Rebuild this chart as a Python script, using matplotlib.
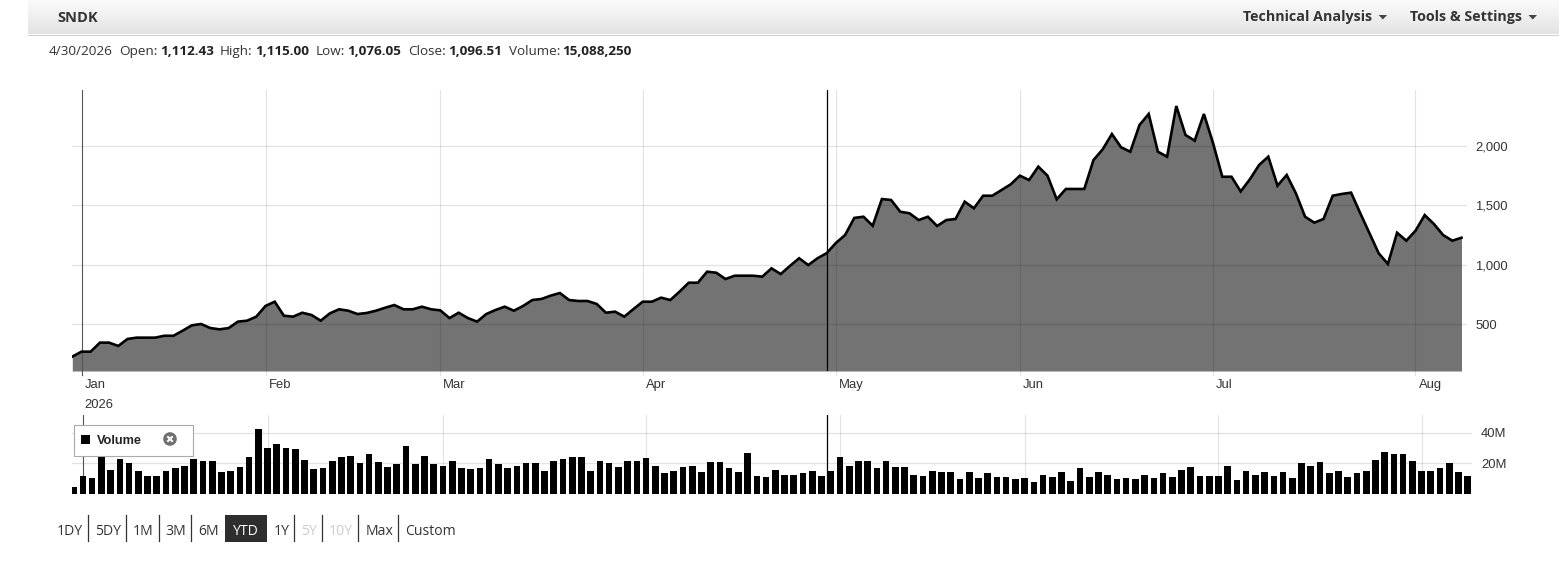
import matplotlib
matplotlib.use("Agg")
import matplotlib.pyplot as plt
import matplotlib.transforms as mtransforms
from matplotlib.patches import Rectangle, Circle, Polygon
from matplotlib.colors import LinearSegmentedColormap
import numpy as np
import pandas as pd

# ------------------------------------------------------------------ data
ticker = "SNDK"
market_holidays = ["2026-01-01", "2026-01-19", "2026-02-16", "2026-04-03",
                   "2026-05-25", "2026-06-19", "2026-07-03"]
dates = pd.bdate_range("2025-12-31", "2026-08-10", freq="C", holidays=market_holidays)

close = [225, 267, 267, 343, 343, 315, 374, 385, 385, 385,
         401, 401, 444, 489, 500, 466, 455, 466, 520, 528,
         562, 652, 688, 570, 562, 595, 576, 528, 590, 624,
         612, 584, 593, 612, 637, 660, 624, 624, 646, 624,
         615, 550, 595, 550, 520, 584, 618, 646, 612, 652,
         702, 711, 739, 761, 702, 694, 694, 669, 595, 604,
         562, 626, 688, 688, 722, 702, 772, 848, 848, 941,
         932, 879, 907, 907, 907, 899, 969, 921, 989, 1054,
         997, 1054, 1097, 1183, 1250, 1394, 1404, 1328, 1553, 1545,
         1446, 1433, 1376, 1404, 1326, 1376, 1385, 1531, 1475, 1581,
         1581, 1629, 1677, 1750, 1713, 1826, 1750, 1551, 1638, 1638,
         1638, 1882, 1972, 2101, 1989, 1952, 2177, 2270, 1952, 1910,
         2337, 2093, 2045, 2270, 2023, 1741, 1741, 1617, 1720, 1840,
         1910, 1666, 1756, 1601, 1404, 1354, 1385, 1581, 1596, 1607,
         1433, 1264, 1096, 1006, 1269, 1202, 1286, 1418, 1343, 1250,
         1202, 1227]

volume_m = [4.4, 11.8, 10.2, 26.0, 15.7, 22.7, 20.0, 15.0, 11.8, 11.8,
            15.0, 16.8, 18.3, 22.7, 21.6, 21.6, 14.4, 15.0, 17.4, 24.0,
            42.3, 29.9, 32.5, 29.9, 29.2, 22.2, 16.1, 16.8, 21.6, 24.0,
            24.8, 20.0, 25.9, 20.7, 17.4, 19.4, 31.6, 19.4, 24.8, 19.4,
            18.3, 21.6, 16.8, 16.1, 16.8, 22.7, 19.4, 16.8, 18.3, 20.0,
            20.0, 15.0, 21.6, 22.7, 24.0, 24.0, 15.0, 21.6, 20.0, 17.4,
            21.6, 21.6, 23.3, 18.3, 13.5, 15.0, 17.4, 18.3, 14.2, 20.7,
            20.7, 16.8, 14.2, 26.6, 11.8, 10.9, 15.7, 12.4, 12.4, 13.5,
            15.0, 11.8, 15.1, 24.0, 18.3, 21.6, 21.6, 16.8, 21.6, 17.4,
            17.4, 12.4, 11.8, 15.0, 14.2, 14.2, 9.6, 14.2, 10.2, 13.5,
            10.9, 10.9, 9.6, 10.2, 7.6, 12.4, 10.9, 14.2, 8.5, 16.8,
            10.9, 14.2, 12.4, 9.6, 10.2, 9.6, 12.4, 10.2, 13.5, 10.9,
            15.7, 17.4, 11.8, 11.8, 11.8, 18.3, 9.2, 15.0, 12.4, 14.2,
            11.8, 14.2, 10.2, 20.0, 18.3, 20.7, 13.5, 15.0, 10.9, 13.5,
            15.0, 22.2, 27.2, 25.9, 25.9, 21.6, 15.0, 15.0, 16.8, 20.0,
            14.2, 11.8]

price_ticks = [500, 1000, 1500, 2000]
price_tick_labels = ["500", "1,000", "1,500", "2,000"]
volume_ticks_m = [20, 40]
volume_tick_labels = ["20M", "40M"]

selected_day = "2026-04-30"
info_date = "4/30/2026"
info_fields = [("Open:", "1,112.43"), ("High:", "1,115.00"), ("Low:", "1,076.05"),
               ("Close:", "1,096.51"), ("Volume:", "15,088,250")]
menus = ["Technical Analysis", "Tools & Settings"]
range_buttons = ["1DY", "5DY", "1M", "3M", "6M", "YTD", "1Y", "5Y", "10Y", "Max", "Custom"]
active_button = "YTD"
disabled_buttons = ["5Y", "10Y"]
legend_label = "Volume"

# ------------------------------------------------------------------ figure
W, H, DPI = 1559, 568, 100
fig = plt.figure(figsize=(W / DPI, H / DPI), dpi=DPI)
fig.patch.set_facecolor("white")
renderer = fig.canvas.get_renderer()

UI_FONT = "Open Sans"
AX_FONT = "Liberation Sans"
TXT = "#333333"


def px_axes(x0, y0, x1, y1):
    return fig.add_axes([x0 / W, 1 - y1 / H, (x1 - x0) / W, (y1 - y0) / H])


def pixel_layer():
    a = fig.add_axes([0, 0, 1, 1])
    a.set_xlim(0, W)
    a.set_ylim(H, 0)
    a.axis("off")
    a.patch.set_alpha(0)
    return a


bg = pixel_layer()

# header bar
cmap = LinearSegmentedColormap.from_list("hdr", ["#fbfbfb", "#e3e3e3"])
bg.imshow(np.linspace(0, 1, 64).reshape(-1, 1), cmap=cmap, extent=[28, W, 34, 0],
          aspect="auto", zorder=0)
bg.plot([28, W], [34.5, 34.5], color="#d2d2d2", lw=0.8)
bg.set_xlim(0, W)
bg.set_ylim(H, 0)

bg.text(57, 22, ticker, fontsize=10.5, fontweight="bold", family=UI_FONT,
        color=TXT, va="baseline")


def text_w(t):
    return t.get_window_extent(renderer).width


# menus with drop-down arrows
menu_x = [1243, 1410]
for mx, m in zip(menu_x, menus):
    t = bg.text(mx, 21.5, m, fontsize=10.3, fontweight="bold", family=UI_FONT,
                color=TXT, va="baseline")
    ex = mx + text_w(t) + 6.5
    bg.add_patch(Polygon([[ex, 15], [ex + 8.5, 15], [ex + 4.25, 19.5]], closed=True,
                         color="#444444", lw=0))

# info line
FS_INFO = 9.7
x = 49
t = bg.text(x, 55, info_date, fontsize=FS_INFO, family=UI_FONT, color=TXT, va="baseline")
x += text_w(t) + 6
for lab, val in info_fields:
    t = bg.text(x, 55, lab, fontsize=FS_INFO, family=UI_FONT, color=TXT, va="baseline")
    x += text_w(t) + 2.5
    t = bg.text(x, 55, val, fontsize=FS_INFO, family=UI_FONT, fontweight="bold",
                color="#222222", va="baseline")
    x += text_w(t) + 6.5

# range buttons
FS_BTN = 10.1
x = 56.7
base = 535
for k, b in enumerate(range_buttons):
    if b == active_button:
        t = bg.text(0, base, b, fontsize=FS_BTN, family=UI_FONT, color="white",
                    va="baseline", zorder=3)
        w = text_w(t)
        bx = x - 7 + 6.0
        bg.add_patch(Rectangle((bx, 515), w + 16, 26.5, color="#2e2e2e", lw=0, zorder=2))
        t.set_x(bx + 8)
        x = bx + w + 16 + 6.5
        continue
    col = "#cccccc" if b in disabled_buttons else TXT
    t = bg.text(x, base, b, fontsize=FS_BTN, family=UI_FONT, color=col, va="baseline")
    x += text_w(t)
    nxt = range_buttons[k + 1] if k + 1 < len(range_buttons) else None
    if nxt is not None and nxt != active_button:
        x += 5
        bg.plot([x, x], [515, 541], color="#333333", lw=0.9)
        x += 7
    else:
        x += 7

# ------------------------------------------------------------------ price panel
GRID = (0, 0, 0, 0.11)
P_L, P_R, P_T, P_B = 72, 1467, 90, 371
ax = px_axes(P_L, P_T, P_R, P_B)
n = len(close)
idx = np.arange(n)
step = 9.2
px0 = -0.3 / step
ax.set_xlim(px0, px0 + (P_R - P_L) / step)
y_lo, y_hi = 104, 2472
ax.set_ylim(y_lo, y_hi)
ax.patch.set_alpha(0)
for s in ax.spines.values():
    s.set_visible(False)

ax.fill_between(idx, close, y_lo, color="#737373", lw=0, zorder=1)
for v in price_ticks:
    ax.axhline(v, color=GRID, lw=1.0, zorder=1.5)

month_first = [i for i in range(1, n) if dates[i].month != dates[i - 1].month]
for i in month_first:
    c = "#555555" if dates[i].month == 1 else GRID
    ax.axvline(i, ymin=-0.015, ymax=1, color=c, lw=0.8, zorder=1.6, clip_on=False)

ax.plot(idx, close, color="black", lw=1.9, solid_joinstyle="miter", zorder=3)

sel = dates.get_loc(pd.Timestamp(selected_day))
ax.axvline(sel, color="black", lw=0.9, zorder=4)

ax.set_xticks([])
ax.yaxis.tick_right()
ax.set_yticks(price_ticks)
ax.set_yticklabels(price_tick_labels)
ax.tick_params(axis="y", length=0, pad=6, labelsize=9.4, labelcolor=TXT)
for lab in ax.get_yticklabels():
    lab.set_family(AX_FONT)

xlab_tr = mtransforms.blended_transform_factory(ax.transData, ax.transAxes) + \
    mtransforms.ScaledTranslation(3 / DPI, -8 / DPI, fig.dpi_scale_trans)
for i in month_first:
    ax.text(i, 0, dates[i].strftime("%b"), transform=xlab_tr, ha="left", va="top",
            fontsize=9.4, family=AX_FONT, color=TXT)
    if dates[i].month == 1:
        yr_tr = xlab_tr + mtransforms.ScaledTranslation(0, -20 / DPI, fig.dpi_scale_trans)
        ax.text(i, 0, dates[i].strftime("%Y"), transform=yr_tr, ha="left", va="top",
                fontsize=9.4, family=AX_FONT, color=TXT)

# ------------------------------------------------------------------ volume panel
V_L, V_R, V_T, V_B = 72, 1472, 415, 494
vax = px_axes(V_L, V_T, V_R, V_B)
vstep = 9.232
vx0 = -1.7 / vstep
vax.set_xlim(vx0, vx0 + (V_R - V_L) / vstep)
vax.set_ylim(0, 51.6)
vax.patch.set_alpha(0)
for s in vax.spines.values():
    s.set_visible(False)
for v in volume_ticks_m:
    vax.axhline(v, color=GRID, lw=1.0, zorder=0.5)
for i in month_first:
    c = "#555555" if dates[i].month == 1 else GRID
    vax.axvline(i, color=c, lw=0.8, zorder=0.6)
vax.bar(idx, volume_m, width=0.72, color="black", lw=0, zorder=2)

disp_x = ax.transData.transform((sel, 0))[0]
vsel = vax.transData.inverted().transform((disp_x, 0))[0]
vax.axvline(vsel, color="black", lw=0.9, zorder=4)

vax.set_xticks([])
vax.yaxis.tick_right()
vax.set_yticks(volume_ticks_m)
vax.set_yticklabels(volume_tick_labels)
vax.tick_params(axis="y", length=0, pad=6.5, labelsize=9.4, labelcolor=TXT)
for lab in vax.get_yticklabels():
    lab.set_family(AX_FONT)

# ------------------------------------------------------------------ overlay (legend)
ov = pixel_layer()
ov.add_patch(Rectangle((74.5, 424.5), 119, 31, facecolor="white", edgecolor="#aaaaaa", lw=0.8))
ov.add_patch(Rectangle((81.5, 435), 9, 9, color="black", lw=0))
ov.text(97, 444, legend_label, fontsize=9.2, fontweight="bold", family=AX_FONT,
        color="#222222", va="baseline")
ov.add_patch(Circle((170, 439), 6.8, color="#707070", lw=0))
ov.plot([167.3, 172.7], [436.3, 441.7], color="white", lw=1.5, solid_capstyle="butt")
ov.plot([167.3, 172.7], [441.7, 436.3], color="white", lw=1.5, solid_capstyle="butt")

fig.savefig("out.png", dpi=DPI)
